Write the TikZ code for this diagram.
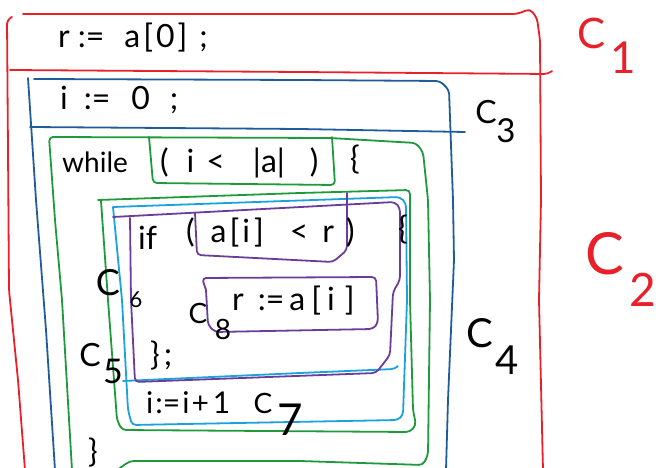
\documentclass[tikz,border=0pt]{standalone}
\usepackage{fontspec}
\setmainfont{Lato}
\definecolor{cred}{HTML}{E8202A}
\definecolor{cblue}{HTML}{1F5C99}
\definecolor{cgreen}{HTML}{1E9A3C}
\definecolor{ccyan}{HTML}{1BA1DC}
\definecolor{cpurple}{HTML}{6A3D9A}
\newcommand{\fs}[1]{\fontsize{#1}{#1}\selectfont}
\begin{document}
\begin{tikzpicture}[x=1pt,y=-1pt,line cap=round,line join=round,
  pen/.style={line width=1.8pt,rounded corners=4pt},
  code/.style={font=\fs{32},inner sep=0pt,anchor=base west},
  lbl/.style={inner sep=0pt,anchor=center}]
\useasboundingbox (0,0) rectangle (665,468);
\clip (0,0) rectangle (665,468);

% C1 / C2: the whole program
\draw[pen,cred] (25,470) -- (18,380) -- (9,290) -- (8,150) -- (7,20) -- (12,17);
\draw[pen,cred] (23,14) -- (300,14) -- (517,14) -- (530,9) -- (537,18) -- (540,40) -- (541,200) -- (539,300) -- (543,470);
\draw[pen,cred] (10,70) -- (300,72) -- (548,74) -- (552,71);

% C3 / C4
\draw[pen,cblue] (55,470) -- (46,330) -- (36,200) -- (28,78);
\draw[pen,cblue] (34,79) -- (300,80) -- (440,81) -- (449,90) -- (453,200) -- (454,260) -- (448,400) -- (446,470);
\draw[pen,cblue] (30,127) -- (300,129) -- (465,132);

% the while loop
\draw[pen,cgreen] (72,470) -- (62,300) -- (55,220) -- (49,137) -- (330,138) -- (416,143) -- (423,152) -- (428,200) -- (430,300) -- (428,455) -- (423,465) -- (300,461) -- (130,461) -- (117,470);
\draw[pen,cgreen] (149,137) -- (153,183) -- (335,185) -- (332,137);
\draw[pen,cgreen] (98,200) -- (300,193) -- (410,190) -- (410,300) -- (413,410) -- (416,425) -- (410,432) -- (122,430) -- (117,420) -- (108,300) -- (101,201);

% C5: loop body
\draw[pen,ccyan] (113,207) -- (400,197) -- (406,203) -- (407,300) -- (403,415) -- (398,420) -- (132,425) -- (128,410) -- (122,300) -- (113,207);
\draw[pen,ccyan] (123,381) -- (300,373) -- (395,369) -- (397,367);

% C6: the if statement
\draw[pen,cpurple] (113,217) -- (395,202) -- (400,208) -- (400,280) -- (393,292) -- (390,355) -- (376,373) -- (135,382) -- (131,300) -- (130,218);
\draw[pen,cpurple] (347,193) -- (347,250) -- (333,262) -- (197,255) -- (195,213);
\draw[pen,cpurple] (206,290) -- (202,278) -- (376,277) -- (378,323) -- (373,329) -- (215,332) -- (208,325) -- (206,290);

% program text
\node[code] (r0) at (58,48) {r\hspace{8pt}:=\hspace{20pt}a\kern3pt[\kern3pt0\kern3pt]\hspace{12pt};};
\node[code] (i0) at (60,110) {i\hspace{16pt}:=\hspace{21pt}0\hspace{20pt};};
\node[code,font=\fs{28}] (wh) at (62,173) {while};
\node[code] (cnd) at (160,173) {(\hspace{18pt}i\hspace{12pt}<\hspace{28pt}|a|\hspace{25pt})};
\node[code] (ob1) at (350,170) {\{};
\node[code] (if) at (138,250) {if};
\node[code] (cnd2) at (186,243) {(\hspace{16pt}a\kern3pt[\kern3pt i\kern4pt]\hspace{26pt}<\hspace{14pt}r\hspace{12pt})};
\node[code] (ob2) at (398,240) {\{};
\node[code] (asg) at (232,310) {r\hspace{14pt}:=\hspace{5pt}a\kern6pt[\kern6pt i\kern10pt]};
\node[code] (cb1) at (150,365) {\}\kern4pt;};
\node[code,font=\fs{30}] (inc) at (146,413) {i\kern2pt:=\kern2pt i\kern2pt+\kern4pt1};
\node[code] (cb2) at (88,462) {\}};

% labels
\node[lbl,text=cred,font=\fs{42}] (c1) at (592,33) {C};
\node[lbl,text=cred,font=\fs{44}] (c1s) at (623,58) {1};
\node[lbl,text=cred,font=\fs{58}] (c2) at (605,254) {C};
\node[lbl,text=cred,font=\fs{46}] (c2s) at (643,290) {2};
\node[lbl,font=\fs{32}] (c3) at (486,112) {C};
\node[lbl,font=\fs{33}] (c3s) at (506,131) {3};
\node[lbl,font=\fs{40}] (c4) at (480,333) {C};
\node[lbl,font=\fs{40}] (c4s) at (507,360) {4};
\node[lbl,font=\fs{36}] (c6) at (108,283) {C};
\node[lbl,font=\fs{22}] (c6s) at (136,300) {6};
\node[lbl,font=\fs{28}] (c8) at (198,313) {C};
\node[lbl,font=\fs{28}] (c8s) at (223,329) {8};
\node[lbl,font=\fs{32}] (c5) at (90,355) {C};
\node[lbl,font=\fs{34}] (c5s) at (113,371) {5};
\node[lbl,font=\fs{28}] (c7) at (263,403) {C};
\node[lbl,font=\fs{44}] (c7s) at (290,420) {7};
\end{tikzpicture}
\end{document}
